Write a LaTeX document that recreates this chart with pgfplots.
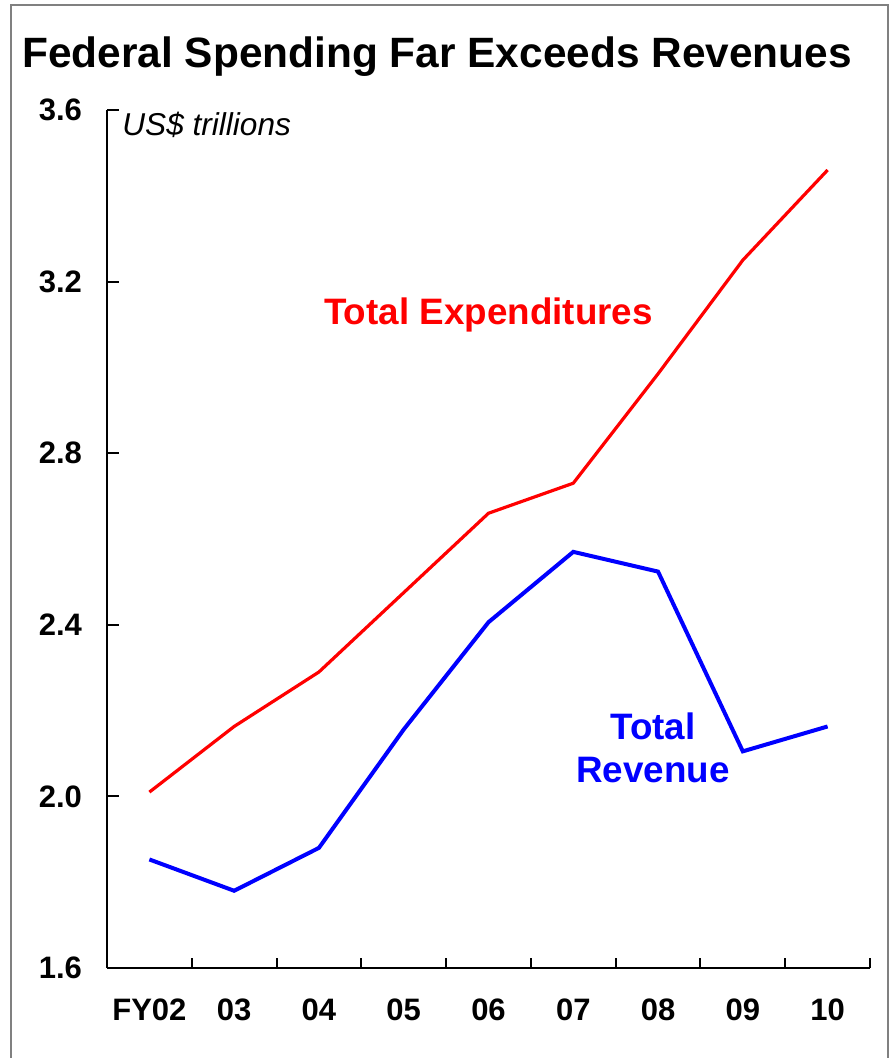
\documentclass[border=0pt]{standalone}
\usepackage{pgfplots}
\pgfplotsset{compat=1.18}
\usepackage{fontspec}
\setmainfont{Liberation Sans}
\definecolor{frame}{gray}{0.5}
\definecolor{expred}{RGB}{255,0,0}
\definecolor{revblue}{RGB}{0,0,255}
\begin{document}
\begin{tikzpicture}
\useasboundingbox (0,0) rectangle (446pt,529pt);
\draw[frame,line width=1pt] (5.5pt,-10pt) -- (5.5pt,526.5pt) -- (444pt,526.5pt) -- (444pt,-10pt);
\node[anchor=base west,inner sep=0pt,font=\fontsize{21.2}{25}\selectfont\bfseries] at (11pt,495pt) {Federal Spending Far Exceeds Revenues};
\begin{axis}[
  at={(53.5pt,45pt)}, anchor=south west,
  scale only axis, width=381.5pt, height=429pt,
  xmin=-0.5, xmax=8.5, ymin=1.6, ymax=3.6,
  axis lines=left, axis line style={line width=1pt,-},
  xtick={0,...,8},
  xticklabels={FY02,03,04,05,06,07,08,09,10},
  major x tick style={draw=none},
  minor xtick={-0.5,0.5,...,8.5},
  minor x tick style={line width=1pt,black},
  minor tick length=5pt,
  ytick={1.6,2.0,2.4,2.8,3.2,3.6},
  y tick style={line width=1pt,black},
  major tick length=6pt,
  tick align=inside,
  /pgf/number format/assume math mode=true,
  yticklabel style={/pgf/number format/fixed,/pgf/number format/precision=1,/pgf/number format/fixed zerofill},
  ticklabel style={font=\fontsize{15.5}{18}\selectfont\bfseries},
  yticklabel style={xshift=-9pt},
  xticklabel style={yshift=-12pt},
  clip=false,
]
\addplot[expred, line width=1.6pt] coordinates {(0,2.01) (1,2.163) (2,2.29) (3,2.475) (4,2.66) (5,2.73) (6,2.985) (7,3.25) (8,3.46)};
\addplot[revblue, line width=2pt] coordinates {(0,1.853) (1,1.78) (2,1.88) (3,2.156) (4,2.406) (5,2.57) (6,2.524) (7,2.105) (8,2.163)};
\node[expred,font=\fontsize{18.4}{21.5}\selectfont\bfseries] at (axis cs:4,3.123) {Total Expenditures};
\node[revblue,align=center,font=\fontsize{18.4}{21.5}\selectfont\bfseries] at (axis cs:5.94,2.114) {Total\\Revenue};
\end{axis}
\node[anchor=base west,inner sep=0pt,font=\fontsize{15.8}{18}\selectfont\itshape] at (61pt,461pt) {US\$ trillions};
\end{tikzpicture}
\end{document}
